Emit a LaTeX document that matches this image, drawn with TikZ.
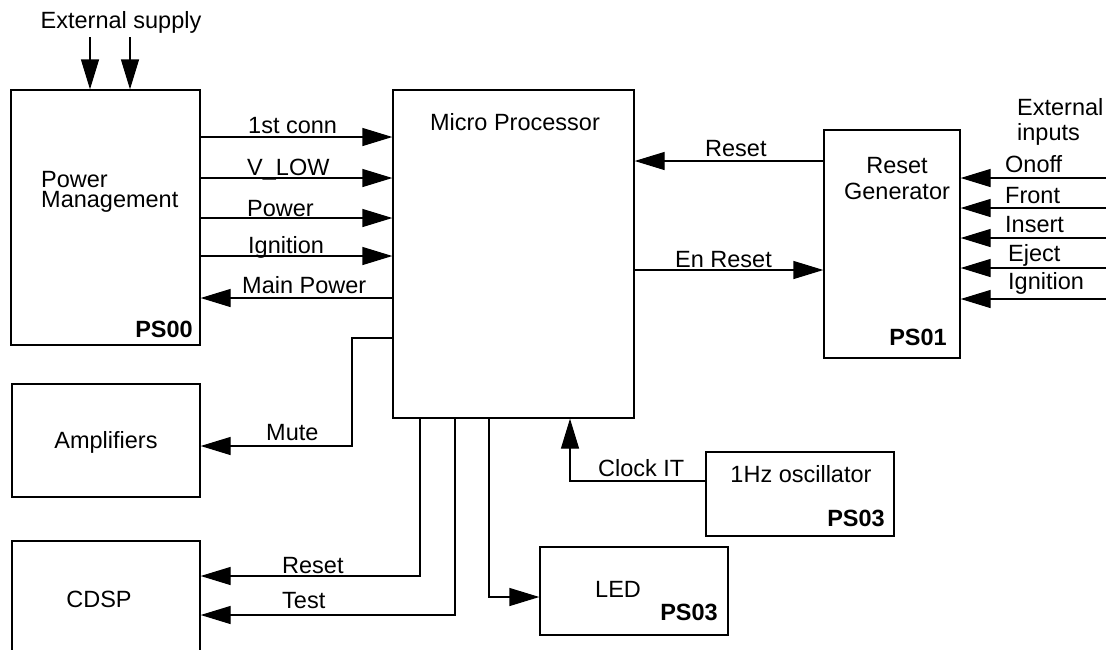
\documentclass[tikz,border=0pt]{standalone}
\usepackage{fontspec}
\setmainfont{Liberation Sans}
\usetikzlibrary{arrows.meta}
\begin{document}
\begin{tikzpicture}[x=1pt,y=-1pt,
  box/.style={draw,line width=1.3pt,inner sep=0pt},
  lbl/.style={inner sep=0pt,font=\fontsize{23.5}{20}\selectfont},
  tag/.style={inner sep=0pt,font=\fontsize{23.5}{20}\selectfont\bfseries,anchor=base east},
  wire/.style={line width=1.3pt},
  arr/.style={wire,-{Triangle[length=30pt,width=18pt]}}]
\useasboundingbox (0,0) rectangle (1106,649);
% boxes
\node[box,minimum width=189pt,minimum height=255pt] (pm) at (105.5,217.5) {};
\node[box,minimum width=241pt,minimum height=328pt] (mp) at (513.5,254) {};
\node[box,minimum width=136pt,minimum height=228pt] (rg) at (892,244) {};
\node[box,minimum width=188pt,minimum height=113pt] (amp) at (106,440.5) {};
\node[box,minimum width=188pt,minimum height=158pt] (cdsp) at (106,620) {};
\node[box,minimum width=188pt,minimum height=88pt] (led) at (634,591) {};
\node[box,minimum width=188pt,minimum height=84pt] (osc) at (800,494) {};
% box texts
\node[lbl,anchor=base] (tes) at (121,28) {External supply};
\node[lbl,anchor=base west,align=left,font=\fontsize{23.5}{20}\selectfont] (tpm) at (41,207) {Power\\Management};
\node[tag] (tps00) at (193,337) {PS00};
\node[lbl,anchor=base] (tmp) at (515,130) {Micro Processor};
\node[lbl,anchor=base,align=center,font=\fontsize{23.5}{26}\selectfont] (trg) at (897,199) {Reset\\Generator};
\node[tag] (tps01) at (947,345) {PS01};
\node[lbl,anchor=base west,align=left,font=\fontsize{23.5}{25}\selectfont] (tei) at (1017,140) {External\\inputs};
\node[lbl,anchor=base] (tamp) at (106,448) {Amplifiers};
\node[lbl,anchor=base] (tcdsp) at (99,607) {CDSP};
\node[lbl,anchor=base west] (tled) at (595,597) {LED};
\node[tag] (tps03a) at (718,620) {PS03};
\node[lbl,anchor=base] (tosc) at (801,482) {1Hz oscillator};
\node[tag] (tps03b) at (885,526) {PS03};
% external supply
\coordinate (es1) at (90,37);
\coordinate (es2) at (130,37);
\draw[arr] (es1) -- (es1 |- pm.north);
\draw[arr] (es2) -- (es2 |- pm.north);
% PM <-> MP
\draw[arr] (pm.east |- 0,137) -- (mp.west |- 0,137);
\draw[arr] (pm.east |- 0,178) -- (mp.west |- 0,178);
\draw[arr] (pm.east |- 0,218) -- (mp.west |- 0,218);
\draw[arr] (pm.east |- 0,256) -- (mp.west |- 0,256);
\draw[arr] (mp.west |- 0,298) -- (pm.east |- 0,298);
\node[lbl,anchor=base west] at (248,133) {1st conn};
\node[lbl,anchor=base west] at (247,175) {V\_LOW};
\node[lbl,anchor=base west] at (247,216) {Power};
\node[lbl,anchor=base west] at (248,253) {Ignition};
\node[lbl,anchor=base west] at (242,293) {Main Power};
% MP <-> RG
\draw[arr] (rg.west |- 0,161) -- (mp.east |- 0,161);
\draw[arr] (mp.east |- 0,270) -- (rg.west |- 0,270);
\node[lbl,anchor=base west] at (705,156) {Reset};
\node[lbl,anchor=base west] at (675,267) {En Reset};
% external inputs
\coordinate (in1) at (1106,178);
\coordinate (in2) at (1106,208);
\coordinate (in3) at (1106,238);
\coordinate (in4) at (1106,268);
\coordinate (in5) at (1106,299);
\foreach \c in {in1,in2,in3,in4,in5} \draw[arr] (\c) -- (rg.east |- \c);
\node[lbl,anchor=base west] at (1005,172) {Onoff};
\node[lbl,anchor=base west] at (1005,203) {Front};
\node[lbl,anchor=base west] at (1005,232) {Insert};
\node[lbl,anchor=base west] at (1008,261) {Eject};
\node[lbl,anchor=base west] at (1008,289) {Ignition};
% Mute
\draw[arr] (mp.west |- 0,338) -| (352,446) -- (amp.east |- 0,446);
\node[lbl,anchor=base west] at (266,440) {Mute};
% CDSP
\draw[arr] (mp.south -| 420,0) |- (cdsp.east |- 0,576);
\draw[arr] (mp.south -| 455,0) |- (cdsp.east |- 0,615);
\node[lbl,anchor=base west] at (282,573) {Reset};
\node[lbl,anchor=base west] at (282,608) {Test};
% LED
\draw[arr] (mp.south -| 489,0) |- (led.west |- 0,597);
% Clock
\draw[arr] (osc.west |- 0,481) -| (mp.south -| 570,0);
\node[lbl,anchor=base west] at (598,476) {Clock IT};
\end{tikzpicture}
\end{document}
